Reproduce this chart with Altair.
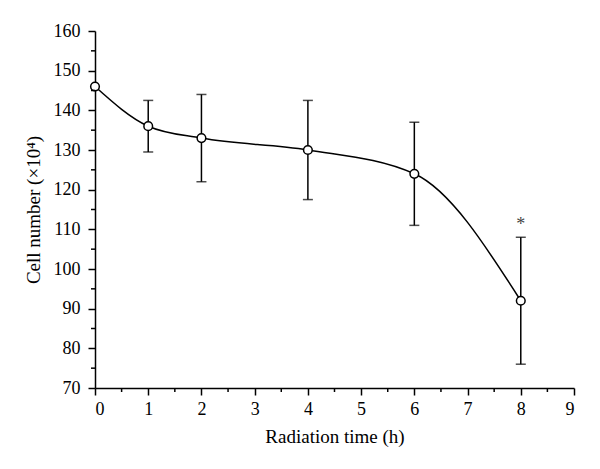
import altair as alt
import pandas as pd

hours = [0, 1, 2, 4, 6, 8]
cells = [146, 136, 133, 130, 124, 92]
err_low = [146, 129.5, 122, 117.5, 111, 76]
err_high = [146, 142.5, 144, 142.5, 137, 108]
star_x = [8]
star_y = [111]
star_text = ["*"]
x_major = list(range(0, 10))
y_major = list(range(70, 161, 10))
x_minor = [i + 0.5 for i in range(9)]
y_minor = [v + 5 for v in range(70, 160, 10)]

df = pd.DataFrame({"h": hours, "c": cells, "lo": err_low, "hi": err_high})
df_err = df[df["lo"] != df["hi"]].reset_index(drop=True)
df_star = pd.DataFrame({"h": star_x, "y": star_y, "t": star_text})
df_xminor = pd.DataFrame({"h": x_minor})
df_yminor = pd.DataFrame({"c": y_minor})

FONT = "Liberation Serif"
W, H = 479, 357

xscale = alt.Scale(domain=[0, 9], nice=False, zero=False)
yscale = alt.Scale(domain=[70, 160], nice=False, zero=False)

common = dict(
    grid=False, labelFont=FONT, titleFont=FONT, labelFontSize=18, titleFontSize=19,
    titleFontWeight="normal", labelColor="black", titleColor="black",
    domainColor="black", tickColor="black", domainWidth=1.5, tickWidth=1.5,
    tickSize=7, labelOverlap=False, ticks=True,
)

xaxis = alt.Axis(title="Radiation time (h)", values=x_major, labelPadding=5, titlePadding=9, **common)
yaxis = alt.Axis(title="Cell number (×10⁴)", values=y_major, labelPadding=8, titlePadding=10, **common)


def X(field):
    return alt.X(field, type="quantitative", scale=xscale, axis=xaxis)


def Y(field):
    return alt.Y(field, type="quantitative", scale=yscale, axis=yaxis)


line = alt.Chart(df).mark_line(interpolate="monotone", color="black", strokeWidth=1.5).encode(
    x=X("h"), y=Y("c"),
)

rules = alt.Chart(df_err).mark_rule(color="black", strokeWidth=1.5).encode(
    x=X("h"), y=Y("lo"), y2="hi:Q"
)
cap_lo = alt.Chart(df_err).mark_tick(color="black", size=10, thickness=1.5, orient="horizontal").encode(
    x=X("h"), y=Y("lo")
)
cap_hi = alt.Chart(df_err).mark_tick(color="black", size=10, thickness=1.5, orient="horizontal").encode(
    x=X("h"), y=Y("hi")
)

pts = alt.Chart(df).mark_point(shape="circle", size=75, fill="white", fillOpacity=1,
                               stroke="black", strokeWidth=1.5, opacity=1).encode(
    x=X("h"), y=Y("c")
)

star = alt.Chart(df_star).mark_text(font=FONT, fontSize=18, color="#444444", baseline="middle").encode(
    x=X("h"), y=Y("y"), text="t:N"
)

xminor = alt.Chart(df_xminor).mark_rule(color="black", strokeWidth=1.5).encode(
    x=X("h"), y=alt.value(H), y2=alt.value(H + 4)
)
yminor = alt.Chart(df_yminor).mark_rule(color="black", strokeWidth=1.5).encode(
    y=Y("c"), x=alt.value(0), x2=alt.value(-4)
)

chart = alt.layer(line, rules, cap_lo, cap_hi, pts, star, xminor, yminor).properties(
    width=W, height=H,
    autosize=alt.AutoSizeParams(type="none"),
    padding={"left": 87, "top": 23, "right": 18, "bottom": 73},
).configure_view(strokeWidth=0)

chart.save("out.html", embed_options={"renderer": "svg", "actions": False})
